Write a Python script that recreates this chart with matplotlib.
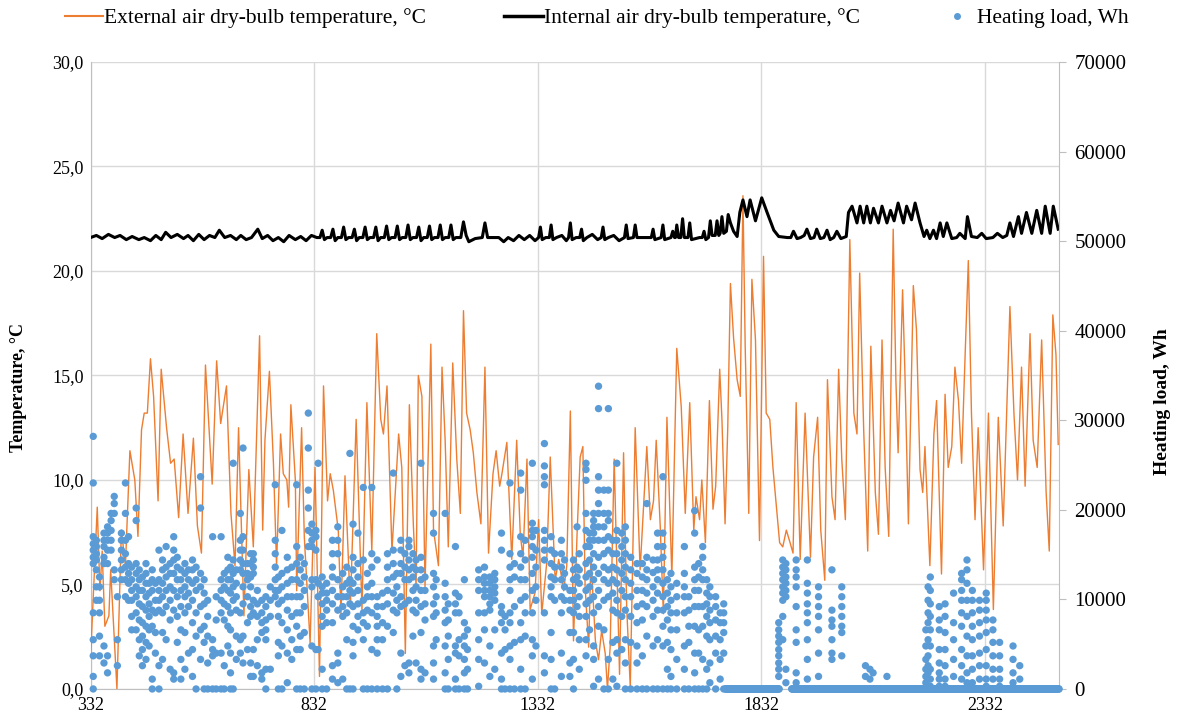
import numpy as np
import matplotlib
matplotlib.use("Agg")
import matplotlib.pyplot as plt
from matplotlib.lines import Line2D
from matplotlib.ticker import FuncFormatter

# external air temperature, turning points (hour, degC)
ext_hours = [332, 347, 353, 358, 364, 373, 377, 391, 401, 410, 420, 431, 438, 446, 452, 459, 466, 473, 483, 490,
             502, 511, 519, 529, 539, 550, 562, 571, 580, 589, 604, 614, 623, 636, 646, 655, 663, 675, 686,
             696, 710, 717, 722, 732, 741, 748, 757, 763, 771, 775, 780, 790, 793, 804, 810, 823, 834, 844, 853,
             862, 868, 875, 886, 892, 901, 913, 926, 939, 950, 961, 972, 981, 987, 995, 1006, 1021, 1028, 1036, 1045,
             1054, 1060, 1065, 1073, 1080, 1093, 1099, 1110, 1118, 1125, 1132, 1142, 1151, 1159, 1166, 1173, 1181,
             1188, 1196, 1205, 1214, 1222, 1232, 1239, 1247, 1252, 1263, 1274, 1285, 1293, 1299, 1308, 1315, 1326,
             1334, 1341, 1352, 1360, 1371, 1379, 1390, 1397, 1405,
             1412, 1420, 1427, 1433, 1438, 1446, 1451, 1461, 1468, 1475, 1483, 1488, 1494, 1503, 1509, 1515, 1524,
             1531, 1539, 1550, 1561, 1576, 1584, 1591, 1597, 1606, 1613, 1621, 1632, 1643, 1653, 1662, 1672, 1681,
             1686, 1694, 1699, 1707, 1716, 1724, 1730, 1739, 1744, 1751, 1757, 1763,
             1770, 1778, 1785, 1791, 1796, 1804, 1811, 1819, 1828, 1837, 1843, 1851, 1858, 1866, 1873, 1880, 1888,
             1895, 1903, 1910, 1919, 1930, 1942, 1949, 1958, 1965, 1974, 1980, 1990, 1997, 2005, 2012, 2020, 2030,
             2039, 2046, 2052, 2061, 2070, 2077, 2087, 2094, 2102, 2109, 2117, 2127,
             2133, 2138, 2148, 2153, 2161, 2172, 2179, 2187, 2193, 2198, 2209, 2218, 2224, 2235, 2243, 2250, 2258,
             2265, 2273, 2280, 2286, 2295, 2302, 2310, 2317, 2329, 2340, 2351, 2362, 2373, 2388, 2397, 2405, 2414,
             2422, 2433, 2440, 2449, 2459, 2469, 2476, 2484, 2491, 2496]
ext_temp = [1.5, 8.7, 4.7, 6.6, 3.0, 3.5, 5.7, 0.0, 7.6, 5.9, 11.4, 10.0, 7.3, 12.4, 13.2, 13.2, 15.8, 14.0, 9.0, 15.3,
            12.5, 10.8, 11.0, 8.2, 12.2, 8.4, 12.0, 7.8, 6.5, 15.5, 9.8, 15.7, 12.7, 14.5, 8.4, 5.9, 12.5, 3.5, 10.5,
            6.8, 16.9, 7.6, 11.9, 15.2, 10.8, 5.9, 12.2, 10.3, 10.0, 8.7, 13.6, 10.0, 4.7, 12.5, 7.3, 2.2, 10.6, 0.6, 14.5,
            9.0, 10.3, 9.5, 7.6, 3.6, 10.2, 3.9, 12.9, 3.8, 13.7, 6.6, 17.0, 12.9, 12.2, 14.5, 6.6, 12.2, 10.6, 1.7, 13.6,
            7.8, 4.9, 15.0, 14.0, 4.9, 16.5, 7.6, 5.9, 15.4, 11.9, 6.8, 15.6, 11.0, 8.4, 18.1, 13.2, 12.4,
            11.3, 9.4, 7.9, 15.4, 6.5, 10.3, 11.4, 9.7, 10.3, 11.8, 6.2, 11.9, 7.4, 6.3, 11.0, 3.8, 4.6,
            8.1, 3.6, 6.0, 11.1, 5.2, 6.2, 4.7, 5.9, 13.3,
            2.3, 7.4, 11.1, 11.6, 4.9, 2.0, 6.3, 2.3, 1.4, 2.8, 1.7, 0.0, 2.0, 11.0, 5.9, 0.7, 11.3,
            3.9, 0.1, 12.5, 5.7, 11.6, 8.1, 9.0, 11.9, 7.8, 3.6, 13.0, 5.4, 16.3, 13.5, 8.4, 13.7, 7.6,
            9.2, 8.1, 10.0, 7.0, 13.8, 8.6, 9.7, 15.3, 12.9, 7.9, 12.5, 19.4,
            16.8, 14.8, 14.0, 23.6, 16.4, 8.4, 19.6, 16.7, 7.1, 20.7, 13.2, 12.9, 10.6, 8.7, 7.0, 6.8, 7.6,
            7.1, 6.5, 13.7, 6.2, 13.2, 6.3, 11.1, 13.0, 7.6, 5.2, 14.8, 9.2, 8.1, 15.3, 11.0, 8.1, 21.5,
            13.2, 12.2, 19.9, 12.4, 6.6, 16.4, 9.4, 7.4, 16.7, 10.6, 7.3, 22.0,
            14.8, 11.3, 19.1, 15.3, 7.9, 19.3, 17.2, 10.5, 9.4, 11.6, 5.9, 12.2, 13.8, 5.5, 14.1, 10.6, 11.6,
            15.4, 13.8, 10.8, 14.8, 20.5, 13.2, 8.1, 12.5, 5.7, 13.2, 3.8, 13.0, 7.8, 18.3, 13.2, 10.0, 15.4,
            9.7, 17.0, 11.9, 10.6, 16.7, 9.4, 6.6, 17.9, 16.0, 11.7]

# internal air temperature, turning points (hour, degC)
int_hours = [332, 345, 358, 372, 386, 398, 412, 425, 440, 452, 466, 478, 490, 500, 512, 526, 540, 550, 562, 574,
             586, 598, 610, 620, 632, 645, 658, 668, 680, 692, 706, 716, 728, 740, 752, 764, 776, 790, 802, 814,
             826, 838, 845, 850, 855, 861, 869, 874, 879, 885, 893, 898, 903, 909, 917, 922, 927, 933, 941, 946,
             951, 957, 965, 970, 975, 981, 989, 994, 999, 1005, 1013, 1018, 1023, 1029, 1037, 1042, 1047, 1053,
             1061, 1066, 1071, 1077, 1085, 1090, 1095, 1101, 1109, 1114, 1119, 1125, 1133, 1138, 1143, 1149,
             1160, 1166, 1172, 1178, 1192, 1208, 1214, 1220, 1245, 1256, 1266, 1278, 1290, 1302, 1314, 1326,
             1334, 1338, 1342, 1350, 1358, 1362, 1366, 1374, 1386, 1396, 1401, 1405, 1409, 1418, 1426, 1430,
             1434, 1442, 1454, 1466, 1474, 1478, 1482, 1490, 1502, 1514, 1526, 1530, 1534, 1546, 1550, 1554,
             1580, 1586, 1590, 1594, 1608, 1612, 1616, 1630, 1634, 1638, 1640, 1643, 1647, 1652, 1656, 1660,
             1668, 1672, 1676, 1694, 1700, 1704, 1708, 1714, 1718, 1722, 1729, 1733, 1737, 1740, 1744, 1748,
             1754, 1758, 1763, 1770,
             1778, 1784, 1791, 1800, 1807, 1819, 1833, 1845, 1860, 1871, 1890, 1898, 1904, 1912, 1920, 1928, 1934,
             1942, 1950, 1956, 1964, 1972, 1979, 1986, 1994, 2001, 2010, 2022, 2027, 2035, 2046, 2053, 2061, 2068,
             2076, 2083, 2094, 2102, 2113, 2121, 2129, 2138, 2150, 2157, 2168, 2176, 2187, 2196, 2202, 2209, 2217,
             2224, 2232, 2239, 2247, 2258, 2269, 2276, 2288, 2293, 2302, 2315, 2325, 2335, 2350, 2360, 2372, 2381,
             2388, 2396, 2407, 2414, 2425, 2437, 2448, 2459, 2467, 2478, 2485, 2496]
int_temp = [21.6, 21.7, 21.55, 21.75, 21.6, 21.7, 21.5, 21.65, 21.5, 21.6, 21.45, 21.7, 21.5, 21.85, 21.6, 21.75,
            21.55, 21.7, 21.45, 21.75, 21.5, 21.7, 21.6, 21.95, 21.6, 21.7, 21.5, 21.7, 21.5, 21.6, 22.0, 21.55,
            21.7, 21.45, 21.6, 21.4, 21.7, 21.5, 21.65, 21.45, 21.7, 21.6, 21.6, 21.95, 21.5, 21.6, 21.6, 22.0,
            21.45, 21.6, 21.6, 22.1, 21.5, 21.6, 21.6, 22.0, 21.45, 21.6, 21.6, 22.1, 21.5, 21.6, 21.6, 22.1,
            21.45, 21.6, 21.6, 22.15, 21.5, 21.6, 21.6, 22.15, 21.5, 21.6, 21.6, 22.2, 21.5, 21.6, 21.6, 22.1,
            21.45, 21.6, 21.6, 22.15, 21.5, 21.6, 21.6, 22.2, 21.5, 21.6, 21.6, 22.2, 21.5, 21.6,
            21.6, 22.35, 21.7, 21.4, 21.55, 21.6, 22.3, 21.6, 21.6, 21.4, 21.6, 21.45, 21.7, 21.5, 21.7, 21.45,
            21.6, 22.1, 21.5, 21.6, 21.6, 22.2, 21.5, 21.6, 21.7, 21.45, 21.6, 22.3, 21.5, 21.6, 21.6, 22.0,
            21.45, 21.6, 21.75, 21.5, 21.6, 22.1, 21.5, 21.6, 21.7, 21.45, 21.6, 22.2, 21.55, 21.6, 22.2, 21.6,
            21.6, 21.6, 22.0, 21.5, 21.6, 22.2, 21.5, 21.6, 21.9, 21.6, 21.6, 22.2, 21.6, 21.6, 22.5, 21.6,
            21.6, 22.3, 21.5, 21.6, 21.6, 21.9, 21.5, 21.6, 22.4, 21.7, 21.7, 22.4, 21.7, 21.8, 22.6, 21.8,
            21.9, 22.7, 22.3, 21.9,
            21.65, 22.8, 23.4, 22.6, 23.4, 22.4, 23.5, 22.8, 21.95, 21.65, 21.6, 21.6, 21.9, 21.55, 21.6, 21.7,
            22.0, 21.55, 21.6, 22.0, 21.55, 21.6, 21.95, 21.5, 21.6, 21.9, 21.55, 21.65, 22.8, 23.1, 22.3, 23.1,
            22.3, 23.1, 22.3, 23.0, 22.3, 23.1, 22.3, 22.9, 22.4, 23.25, 22.3, 23.1, 22.45, 23.25, 22.3, 21.65,
            21.95, 21.55, 21.95, 21.55, 22.3, 21.65, 22.3, 21.55, 21.6, 21.8, 21.55, 22.6, 21.65, 21.6, 21.8,
            21.55, 21.6, 21.8, 21.6, 21.7, 22.3, 21.65, 22.6, 21.8, 22.8, 21.8, 22.9, 21.8, 23.1, 21.8, 23.1, 22.0]

# heating load: dot columns (hour) with the loads seen in each column, thousand Wh
heat_hours = [338, 345, 352, 362, 370, 378, 385, 392, 401, 410, 417, 424, 434, 441, 448, 456, 463, 470, 477, 485,
              493, 501, 510, 518, 526, 534, 543, 551, 560, 568, 578, 586, 594, 605, 613, 624, 631, 639, 645, 651,
              658, 667, 673, 683, 690,
              696, 705, 715, 724, 734, 745, 752, 760, 772, 782, 793, 801, 810, 819, 827, 836, 841, 850, 860, 873,
              885, 896, 905, 912, 919, 930, 942, 951, 961, 973, 985, 996, 1009, 1017, 1026, 1035, 1044, 1053,
              1060, 1071, 1080, 1099, 1105, 1125, 1132, 1148, 1156, 1168, 1175, 1200, 1213, 1225, 1236, 1251, 1259,
              1270, 1280, 1294, 1304, 1320, 1328, 1347, 1362, 1370, 1385, 1392, 1404,
              1412, 1420, 1425, 1440, 1448, 1457, 1468, 1480, 1490, 1500, 1509, 1520, 1528, 1540, 1554, 1566, 1576,
              1590, 1600, 1612, 1622, 1630, 1643, 1660, 1670, 1683, 1692, 1701, 1710, 1717, 1730, 1740, 1748,
              1871, 1880, 1887, 1910, 1935, 1960, 1990, 2012, 2065, 2075, 2082, 2113,
              2200, 2205, 2210, 2230, 2243, 2262, 2280, 2292, 2304, 2320, 2335, 2350, 2365, 2395, 2410]
heat_loads_k = [
    [28.2, 23.0, 17.0, 16.2, 15.5, 14.7, 14.0, 8.5, 5.5, 3.7, 1.4, 0],
    [16.6, 15.9, 15.1, 14.4, 13.3, 11.4, 9.9],
    [12.5, 11.4, 9.9, 8.5, 5.9, 3.7],
    [17.4, 16.6, 15.9, 14.7, 14.0, 4.8, 2.9],
    [18.1, 17.4, 16.6, 15.5, 14.0, 3.7, 1.8],
    [19.6, 18.8, 17.7, 16.6, 15.5],
    [21.5, 20.7, 19.6, 13.3, 12.2],
    [10.3, 5.5, 2.6],
    [17.4, 16.6, 15.5, 14.4, 13.3, 12.2],
    [23.0, 19.6, 16.6, 15.1, 13.6, 12.2, 10.3],
    [17.0, 14.0, 12.9, 11.8, 9.9],
    [13.6, 12.2, 11.0, 9.9, 8.1, 6.6],
    [20.2, 18.8, 14.0, 12.9, 11.4, 10.3, 8.5, 6.6],
    [13.3, 12.2, 11.0, 9.5, 7.7, 5.5, 3.7],
    [12.5, 11.0, 9.2, 7.4, 5.9, 4.4, 2.6],
    [14.0, 12.9, 11.8, 10.3, 8.8, 7.0, 5.2, 3.3],
    [11.8, 10.7, 9.5, 8.1, 6.6, 4.8],
    [13.3, 12.2, 11.0, 8.8, 7.0, 1.1, 0],
    [11.8, 9.9, 8.5, 6.3, 4.0],
    [15.5, 12.2, 11.0, 9.9, 8.8, 2.6, 0],
    [14.4, 13.3, 11.8, 10.3, 8.5, 6.3, 3.3],
    [15.9, 13.6, 12.5, 11.0, 9.2, 5.5],
    [14.0, 12.9, 11.4, 9.9, 7.7, 2.2],
    [17.0, 15.5, 14.4, 12.9, 11.0, 8.8, 1.8, 1.1],
    [14.7, 13.6, 12.2, 10.3, 8.1, 5.2],
    [13.3, 12.2, 11.0, 9.2, 6.6, 3.3, 1.1],
    [14.0, 12.9, 11.4, 10.3, 8.5, 6.3, 2.2],
    [13.3, 12.2, 10.7, 9.2, 4.0],
    [14.4, 13.3, 11.8, 9.9, 7.4, 4.4, 1.4],
    [13.6, 12.2, 11.0, 8.5, 5.9, 0],
    [23.7, 20.2, 12.9, 11.4, 9.2, 6.6, 3.3],
    [12.2, 10.7, 9.5, 7.0, 5.2, 0],
    [9.9, 8.1, 5.9, 2.9, 0],
    [17.0, 5.5, 4.4, 3.7, 0],
    [10.3, 7.7, 4.0, 0],
    [17.0, 12.2, 11.0, 9.9, 8.5, 4.0, 0],
    [12.9, 11.4, 9.5, 7.7, 2.6, 0],
    [14.7, 13.3, 12.2, 11.0, 9.2, 7.0, 4.8],
    [13.6, 12.2, 10.7, 8.5, 6.6, 4.0, 1.8, 0],
    [25.2, 14.4, 12.9, 11.4, 9.9, 0],
    [13.3, 11.8, 10.3, 8.8, 5.9, 3.3],
    [19.6, 16.6, 15.5, 14.4, 13.3, 8.5, 5.5, 4.0],
    [26.9, 17.0, 15.5, 14.0, 12.9, 11.4, 9.5, 5.9, 2.9],
    [14.0, 12.9, 12.2, 10.3, 7.4, 4.4],
    [15.1, 14.0, 12.5, 11.4, 9.2, 8.1, 2.9, 1.4],
    [15.1, 14.4, 13.6, 12.9, 9.9, 8.5, 4.4, 1.4],
    [11.0, 9.5, 8.1, 5.5, 2.6],
    [9.9, 8.5, 7.4, 6.3, 1.8, 1.1],
    [10.3, 9.2, 7.7, 6.6, 5.5, 2.2, 0],
    [11.4, 9.9, 8.1, 2.2],
    [22.8, 16.6, 15.1, 13.6, 12.2, 11.0, 10.3],
    [12.5, 11.0, 9.5, 8.1, 5.2, 3.7, 0],
    [17.7, 12.9, 11.4, 9.9, 7.4, 4.8, 0],
    [14.7, 13.3, 11.8, 10.3, 8.8, 6.6, 4.0, 0.7],
    [13.6, 12.2, 10.3, 8.1, 5.5, 3.3],
    [22.8, 15.9, 14.0, 12.2, 10.3, 8.5, 7.0, 4.4, 0],
    [14.7, 13.3, 11.8, 10.3, 8.5, 5.9, 4.4, 0],
    [14.0, 12.5, 11.0, 9.2, 6.3, 0],
    [30.8, 26.9, 22.2, 20.2, 17.7, 15.9],
    [18.4, 17.4, 16.6, 15.9, 12.2, 11.4, 4.8, 0],
    [17.7, 17.0, 15.5, 12.2, 4.4, 0],
    [25.2, 11.8, 10.3, 4.4],
    [12.5, 11.4, 10.7, 9.5, 8.1, 7.0, 2.2, 0],
    [11.8, 10.7, 9.9, 8.8, 7.4, 0],
    [16.6, 15.1, 13.6, 12.5, 11.0, 9.5, 7.4, 2.6, 1.1],
    [18.1, 16.6, 15.1, 12.2, 10.3, 8.8, 4.0, 2.9, 0.7],
    [12.9, 11.4, 10.3, 9.2, 8.1, 1.1],
    [13.6, 11.8, 10.3, 8.5, 5.5, 0],
    [26.3, 12.2, 11.0, 9.5, 0],
    [18.4, 14.7, 13.3, 11.8, 10.7, 9.2, 7.0, 5.2, 3.7, 0],
    [17.4, 14.0, 12.5, 11.0, 9.5, 8.1, 6.6],
    [22.5, 14.4, 9.9, 8.5, 7.4, 5.5, 0],
    [12.9, 11.4, 10.3, 8.8, 7.0, 0],
    [22.5, 15.1, 13.6, 11.8, 10.3, 8.5, 4.4, 0],
    [14.4, 10.3, 9.2, 8.1, 7.0, 5.5, 4.0, 0],
    [10.7, 9.2, 7.4, 5.5, 0],
    [15.1, 13.6, 12.2, 11.0, 9.5, 7.0, 0],
    [24.1, 15.5, 14.0, 12.5, 10.7, 8.8, 6.3],
    [12.9, 11.4, 9.9, 8.5, 0],
    [16.6, 15.5, 14.0, 12.9, 10.3, 9.2, 4.0, 1.4],
    [15.1, 13.6, 12.2, 9.5, 2.6],
    [16.6, 15.9, 14.4, 13.3, 12.2, 9.9, 2.9, 1.8],
    [15.1, 13.6, 12.5, 11.0, 8.8, 5.9],
    [14.4, 13.3, 11.4, 9.9, 8.5, 2.9],
    [25.2, 14.7, 13.3, 12.2, 11.0, 9.2, 6.3, 2.2, 1.1],
    [12.5, 11.0, 9.5, 7.7, 1.8],
    [19.6, 17.4, 12.9, 11.4, 9.5, 8.1, 4.8, 2.9, 1.1],
    [12.2, 10.3, 8.5, 5.5],
    [19.6, 11.8, 10.3, 8.8, 7.4, 4.8, 1.8, 0],
    [9.5, 7.7, 5.9, 3.3, 0],
    [15.9, 10.7, 9.5, 8.5, 4.8, 4.0, 1.1, 0],
    [10.3, 8.5, 5.5, 3.7, 0],
    [12.2, 7.4, 5.9, 4.8, 3.3, 1.8, 0],
    [6.6, 4.4, 2.2, 0],
    [13.3, 12.2, 11.0, 8.5, 5.5, 3.3, 0.3],
    [13.6, 12.5, 11.8, 11.0, 10.3, 8.5, 6.6, 2.9],
    [12.5, 11.8, 11.0, 10.3, 9.5, 8.8, 4.8, 1.4],
    [12.9, 12.2, 11.4, 10.7, 9.9, 6.6, 2.2],
    [17.4, 15.5, 9.2, 8.5, 7.4, 4.0, 1.1, 0],
    [8.1, 6.6, 4.4, 0],
    [23.0, 15.1, 13.6, 12.2, 11.0, 8.5, 7.4, 4.8, 3.3, 0],
    [14.0, 12.5, 9.2, 5.2, 0],
    [24.1, 22.2, 17.0, 15.1, 13.6, 12.2, 9.9, 7.4, 5.5, 2.2, 0],
    [16.6, 14.4, 12.2, 10.3, 8.5, 5.9, 0],
    [25.2, 18.5, 17.7, 17.0, 15.9, 14.7, 12.9, 11.0, 8.5, 5.5, 3.7, 1.1],
    [17.7, 15.5, 13.6, 11.4, 9.9, 4.8],
    [27.4, 24.9, 23.7, 22.8, 17.7, 16.6, 15.5, 14.4, 8.5, 3.7, 1.8],
    [17.0, 15.5, 14.0, 12.5, 11.4, 10.3, 6.3, 3.3, 0],
    [15.1, 13.6, 12.2, 9.9, 0],
    [16.6, 15.1, 13.6, 12.2, 10.3, 8.5, 4.0, 1.4],
    [14.4, 12.9, 11.4, 9.9],
    [11.0, 9.9, 8.8, 6.3, 2.9, 1.4],
    [14.4, 13.3, 12.2, 11.0, 9.9, 8.5, 6.3, 3.3, 0],
    [18.1, 13.6, 12.5, 9.2],
    [15.1, 13.3, 11.8, 10.3, 8.1, 5.5, 2.2],
    [25.2, 24.5, 23.3, 19.6, 17.7, 15.9, 14.0, 12.5, 11.0, 9.5, 8.1, 5.5, 3.7],
    [17.4, 16.6, 15.9, 14.4, 12.9, 11.4, 9.9, 6.6],
    [19.6, 18.8, 18.1, 17.4, 16.6, 15.1, 13.6, 12.2, 10.3, 8.5, 4.8, 3.3, 0.3],
    [33.8, 31.3, 23.7, 22.2, 20.7, 19.6, 18.1, 16.6, 14.7, 12.9, 11.0, 9.2, 7.0, 1.1],
    [22.2, 19.6, 18.1, 16.6, 15.1, 13.6, 12.2, 9.9, 6.6, 0],
    [31.3, 22.2, 19.6, 18.8, 17.0, 15.5, 13.3, 11.8, 10.3, 3.3, 0],
    [16.6, 15.1, 13.6, 12.2, 10.7, 8.8, 5.2, 1.1],
    [25.2, 17.7, 16.6, 15.1, 13.3, 11.8, 9.9, 8.5, 5.5, 4.0, 0.3],
    [17.4, 15.9, 14.4, 12.9, 11.0, 8.1, 4.4],
    [18.1, 16.6, 15.1, 13.6, 12.2, 10.3, 8.8, 5.5, 2.9, 0],
    [14.7, 13.3, 11.8, 10.3, 8.1, 5.2, 0],
    [14.0, 12.9, 11.0, 9.2, 7.4, 4.8, 2.9, 0],
    [14.0, 12.5, 11.0, 9.5, 7.7, 3.7, 0],
    [20.7, 14.7, 13.3, 12.2, 10.7, 9.2, 5.9, 0],
    [14.4, 13.0, 11.4, 9.9, 8.1, 4.8, 0],
    [17.4, 15.9, 14.4, 13.3, 12.2, 10.7, 8.8, 5.5, 0],
    [23.7, 17.4, 15.9, 14.7, 13.3, 11.8, 10.3, 8.8, 7.0, 4.8, 0],
    [12.2, 10.7, 9.2, 7.7, 5.2, 2.2, 0],
    [12.9, 11.4, 9.9, 8.5, 6.6, 4.4, 1.4, 0],
    [11.8, 10.3, 8.5, 6.6, 3.3, 0],
    [15.9, 12.9, 11.4, 10.3, 8.5, 4.8, 2.2, 0],
    [10.3, 8.8, 7.0, 5.2, 0],
    [19.9, 17.4, 13.6, 12.2, 11.0, 9.2, 7.0, 4.0, 1.8, 0],
    [14.0, 12.5, 11.0, 9.2, 6.6, 4.0, 0],
    [15.9, 14.7, 13.3, 12.2, 9.2, 7.0, 3.3, 0],
    [12.2, 10.7, 9.5, 8.1, 5.9, 2.2, 0],
    [11.4, 10.3, 8.8, 7.4, 5.5, 2.9, 0.7],
    [10.3, 9.2, 7.7, 5.9, 4.0, 0],
    [8.5, 7.4, 5.5, 3.3, 1.1],
    [9.5, 8.5, 7.4, 6.3, 4.0, 0],
    [7.4, 6.6, 5.9, 5.2, 4.4, 3.7, 2.9, 2.2, 1.4],
    [14.4, 13.6, 12.9, 12.2, 11.4, 10.7, 9.9, 8.1, 5.5],
    [14.0, 13.3, 12.5, 11.8, 11.0, 10.3, 2.2, 0.7],
    [14.4, 13.3, 12.5, 11.4, 9.2, 6.6, 5.2, 1.8, 0.7, 0],
    [14.4, 11.8, 10.7, 9.5, 8.5, 7.4, 5.5, 3.3, 1.1, 0],
    [11.4, 10.3, 9.2, 8.1, 6.6, 4.0, 1.4, 0],
    [13.3, 8.8, 7.7, 7.0, 5.5, 4.0, 3.3, 0],
    [11.4, 10.3, 9.2, 8.1, 7.0, 6.3, 3.7, 0],
    [2.6, 1.4],
    [2.2, 1.1],
    [1.8],
    [1.4],
    [6.6, 4.8, 3.3, 2.2, 1.4, 0.7],
    [11.4, 9.9, 8.5, 7.4, 5.5, 3.7, 2.6, 1.8, 1.1],
    [12.5, 11.0, 9.5, 8.1, 6.6, 4.8, 2.2, 1.1, 0.3],
    [9.2, 7.7, 6.6, 4.4, 2.9, 1.8, 1.1, 0.3],
    [9.5, 8.1, 6.3, 4.4, 2.6, 1.1, 0.3],
    [10.7, 7.4, 5.5, 3.3, 1.4, 0],
    [12.9, 12.2, 11.0, 9.9, 8.5, 7.0, 4.4, 2.6, 1.1],
    [14.4, 13.3, 11.8, 9.9, 8.1, 5.9, 3.7, 1.8, 0.7],
    [11.0, 9.9, 8.5, 7.0, 5.5, 3.7, 2.2, 0.7],
    [9.9, 8.8, 7.4, 5.9, 4.0, 2.6, 1.1, 0],
    [10.7, 9.9, 8.8, 7.7, 6.3, 4.4, 2.6, 1.1, 0.3],
    [7.7, 6.6, 5.2, 3.7, 2.2, 1.1],
    [5.2, 3.7, 2.2, 1.1, 0.3],
    [4.8, 3.3, 1.8, 0.7],
    [2.6, 1.1],
]
# hours with zero heating load shown as a continuous row of dots
zero_runs = [(1752, 1872), (1900, 2498)]

x_ticks = [332, 832, 1332, 1832, 2332]

plt.rcParams['font.family'] = ['Liberation Serif', 'DejaVu Serif']

fig = plt.figure(figsize=(11.79, 7.25), dpi=100)
ax = fig.add_axes([0.0768, 0.0497, 0.8215, 0.8648])

orange = '#ED7D31'
blue = '#5B9BD5'
grid_c = '#d9d9d9'

ax.plot(ext_hours, ext_temp, color=orange, lw=1.0, zorder=3)
ax.plot(int_hours, int_temp, color='black', lw=2.2, zorder=4)

ax.set_xlim(332, 2498)
ax.set_ylim(0, 30)
ax.set_xticks(x_ticks)
ax.set_yticks(np.arange(0, 31, 5))
ax.yaxis.set_major_formatter(FuncFormatter(lambda v, p: ('%.1f' % v).replace('.', ',')))
ax.grid(True, color=grid_c, lw=1.0)
ax.set_axisbelow(True)
for s in ['top', 'right']:
    ax.spines[s].set_visible(False)
for s in ['left', 'bottom']:
    ax.spines[s].set_color('#bfbfbf')
ax.tick_params(axis='both', length=0, labelsize=13)
ax.tick_params(axis='x', pad=6)
ax.tick_params(axis='y', pad=5)

ax2 = ax.twinx()
xs, ys = [], []
for h, loads in zip(heat_hours, heat_loads_k):
    for v in loads:
        xs.append(h)
        ys.append(v * 1000)
for a, b in zero_runs:
    hrs = np.arange(a, b + 1)
    xs.extend(hrs)
    ys.extend(np.zeros(len(hrs)))
ax2.scatter(xs, ys, s=28, color=blue, edgecolors='none', zorder=5, clip_on=False)
ax2.set_ylim(0, 70000)
ax2.set_xlim(332, 2498)
ax2.set_yticks(np.arange(0, 70001, 10000))
for s in ['top', 'left', 'bottom']:
    ax2.spines[s].set_visible(False)
ax2.spines['right'].set_color('#bfbfbf')
ax2.tick_params(axis='y', length=5, color='#bfbfbf', labelsize=15, pad=6)

fig.text(0.0153, 0.466, 'Temperature, °C', rotation=90, ha='center', va='center',
         fontsize=13, fontweight='bold')
fig.text(0.9856, 0.446, 'Heating load, Wh', rotation=90, ha='center', va='center',
         fontsize=14, fontweight='bold')

handles = [Line2D([], [], color=orange, lw=1.5),
           Line2D([], [], color='black', lw=2.5),
           Line2D([], [], color=blue, marker='o', ms=4, ls='none')]
labels = ['External air dry-bulb temperature, °C',
          'Internal air dry-bulb temperature, °C',
          'Heating load, Wh']
fig.legend(handles, labels, loc='center', bbox_to_anchor=(0.506, 0.975), ncol=3, frameon=False,
           fontsize=15.5, handlelength=1.8, handletextpad=0.05, columnspacing=3.6)

fig.savefig('out.png', dpi=100)
